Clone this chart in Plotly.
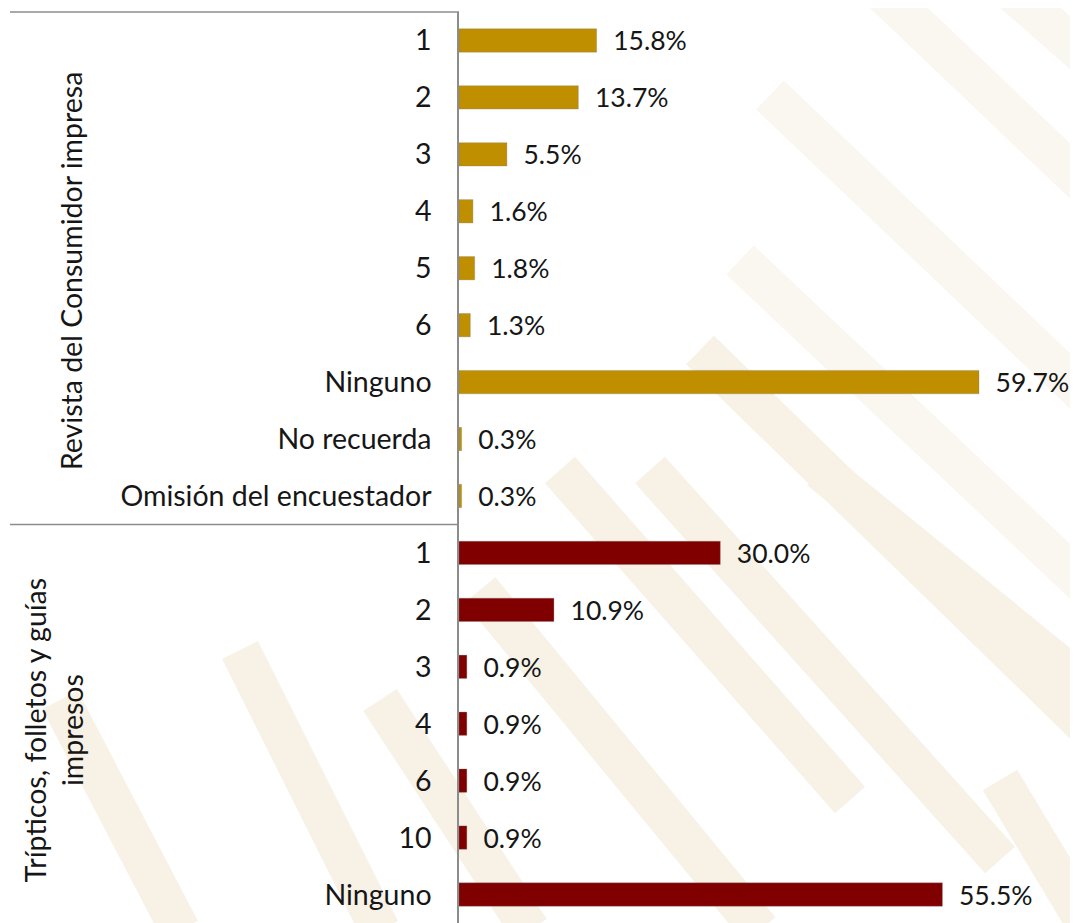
import plotly.graph_objects as go

# ---- data ----
revista_labels = ["1", "2", "3", "4", "5", "6", "Ninguno", "No recuerda", "Omisión del encuestador"]
revista_values = [15.8, 13.7, 5.5, 1.6, 1.8, 1.3, 59.7, 0.3, 0.3]
tripticos_labels = ["1", "2", "3", "4", "6", "10", "Ninguno"]
tripticos_values = [30.0, 10.9, 0.9, 0.9, 0.9, 0.9, 55.5]
group_titles = ["Revista del Consumidor impresa", "Trípticos, folletos y guías<br>impresos"]

GOLD = "#BF8F00"
RED = "#800000"
FONT = "Lato"
FS = 28.5
FS_LAB = 26.5
TXT = "#161616"

OFF = 8  # page body margin
W, H = 1078 - OFF, 923 - OFF
L, R, T, B = 459 - OFF, 0, 12 - OFF, 0
PW, PH = W - L - R, H - T - B

def px(x):  # page pixel -> paper x
    return (x - OFF - L) / PW

def py(y):  # page pixel -> paper y
    return 1 - (y - OFF - T) / PH

n1 = len(revista_labels)
n2 = len(tripticos_labels)
pos1 = list(range(n1))
pos2 = list(range(n1, n1 + n2))

fig = go.Figure()
for pos, vals, col in [(pos1, revista_values, GOLD), (pos2, tripticos_values, RED)]:
    fig.add_trace(go.Bar(
        y=pos, x=vals, orientation="h",
        marker=dict(color=col, line=dict(color="rgba(120,120,120,0.5)", width=0.6)),
        width=0.41,
        text=["  " + f"{v:.1f}%" for v in vals],
        textposition="outside", cliponaxis=False, constraintext="none",
        textfont=dict(family=FONT, size=FS_LAB, color=TXT),
        showlegend=False,
    ))

# background watermark bands (decorative)
shapes = []
light = "#FAF6F0"
mid = "#F7F1E6"
bands = [
    (880, -10, 1090, 190, light), (1010, -10, 1090, 60, light), (770, 95, 1090, 400, light),
    (740, 260, 1090, 590, light), (700, 350, 1090, 730, mid), (560, 470, 850, 800, mid),
    (650, 470, 1000, 860, mid), (820, 470, 1090, 690, mid), (480, 590, 760, 930, mid),
    (380, 700, 530, 930, mid), (240, 650, 380, 930, mid), (60, 700, 180, 930, mid),
    (1000, 780, 1090, 930, mid),
]
for x0, y0, x1, y1, c in bands:
    shapes.append(dict(type="line", xref="paper", yref="paper",
                       x0=px(x0), y0=py(y0), x1=px(x1), y1=py(y1),
                       line=dict(color=c, width=40), layer="below"))

# frame lines
line_col = "#8c8c8c"
shapes.append(dict(type="line", xref="paper", yref="paper",
                   x0=px(10), x1=0, y0=1, y1=1, line=dict(color=line_col, width=1.5)))
shapes.append(dict(type="line", xref="paper", yref="y",
                   x0=px(10), x1=0, y0=n1 - 0.5, y1=n1 - 0.5, line=dict(color=line_col, width=1.5)))

annotations = [
    dict(text=group_titles[0], xref="paper", yref="y", x=px(71), y=(n1 - 1) / 2 + 0.05,
         textangle=-90, showarrow=False, xanchor="center", yanchor="middle",
         font=dict(family=FONT, size=FS, color=TXT)),
    dict(text=group_titles[1], xref="paper", yref="y", x=px(53), y=n1 + (n2 - 1) / 2 + 0.1,
         textangle=-90, showarrow=False, xanchor="center", yanchor="middle",
         font=dict(family=FONT, size=FS, color=TXT)),
]

fig.update_layout(
    width=W, height=H,
    margin=dict(l=L, r=R, t=T, b=B, pad=0),
    paper_bgcolor="white", plot_bgcolor="rgba(0,0,0,0)",
    shapes=shapes, annotations=annotations,
    xaxis=dict(range=[0, PW / 8.71], visible=False, fixedrange=True),
    yaxis=dict(
        range=[n1 + n2 - 0.5, -0.5],
        tickvals=pos1 + pos2, ticktext=revista_labels + tripticos_labels,
        tickfont=dict(family=FONT, size=FS, color=TXT),
        showline=True, linecolor=line_col, linewidth=1.5,
        showgrid=False, zeroline=False, ticks="", ticklabelstandoff=20,
    ),
    font=dict(family=FONT),
)

fig.write_html("out.html")
